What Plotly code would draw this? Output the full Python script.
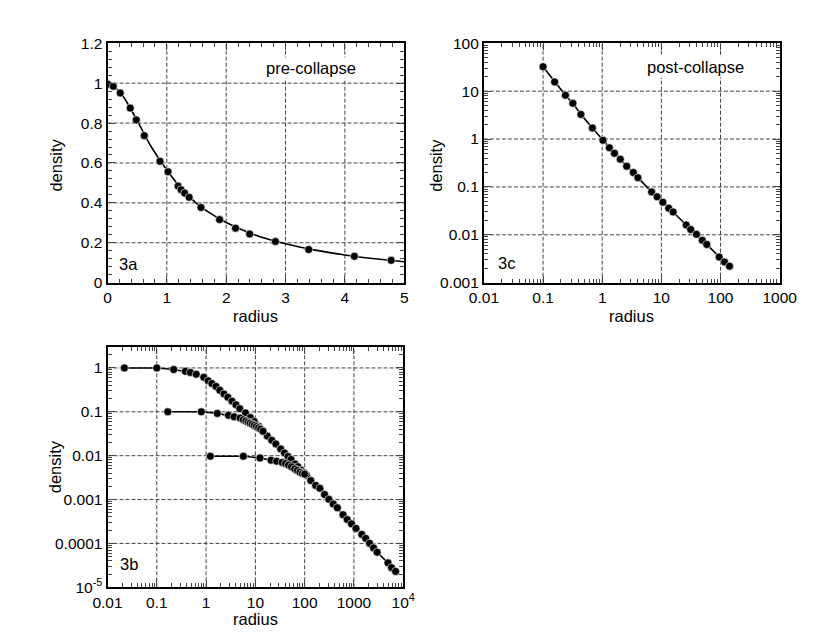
import plotly.graph_objects as go

# ---------------- data ----------------
# 3a pre-collapse (linear)
a_r = [0.005, 0.097, 0.215, 0.383, 0.485, 0.62, 0.885, 1.02, 1.19, 1.24, 1.30, 1.375, 1.575, 1.888, 2.157, 2.395, 2.83, 3.39, 4.16, 4.78]
a_d = [0.995, 0.984, 0.951, 0.875, 0.816, 0.737, 0.608, 0.556, 0.484, 0.466, 0.449, 0.428, 0.377, 0.316, 0.273, 0.244, 0.206, 0.166, 0.132, 0.112]
a_curve_r = [0.0, 0.1, 0.25, 0.5, 0.75, 1.0, 1.25, 1.5, 1.75, 2.0, 2.5, 3.0, 3.5, 4.0, 4.5, 5.0]
a_curve_d = [1.0, 0.985, 0.94, 0.812, 0.675, 0.565, 0.47, 0.398, 0.345, 0.302, 0.238, 0.195, 0.163, 0.139, 0.12, 0.105]

# 3c post-collapse (log-log)
c_r = [0.1, 0.157, 0.239, 0.319, 0.436, 0.682, 1.03, 1.32, 1.61, 2.02, 2.59, 3.36, 4.01, 6.84, 8.46, 10.6, 13.3, 15.8, 26.3, 31.3, 39.2, 49.1, 58.5, 95.0, 117, 142]
c_d = [32.4, 15.6, 8.2, 5.56, 3.27, 1.70, 0.94, 0.656, 0.503, 0.380, 0.270, 0.200, 0.156, 0.0787, 0.0622, 0.0478, 0.0360, 0.0299, 0.0160, 0.0129, 0.0102, 0.00769, 0.00628, 0.00342, 0.00271, 0.00221]

# 3b three runs (log-log)
b1_r = [0.022, 0.10, 0.22, 0.38, 0.48, 0.63, 0.90, 1.10, 1.31, 1.59, 1.90, 2.31, 2.76, 3.36, 4.03, 4.82, 6.3, 7.9, 9.5, 11.6, 14.3, 17.4, 21.5, 26, 32.6, 39, 46, 53, 63.5, 73, 84, 96, 108, 133, 167, 203, 253, 310, 380, 460, 600, 730, 890, 1100, 1440, 1730, 2080, 2500, 2950, 4900, 5800, 7000]
b1_d = [1.0, 1.0, 0.92, 0.84, 0.79, 0.72, 0.61, 0.51, 0.44, 0.38, 0.31, 0.255, 0.215, 0.175, 0.145, 0.118, 0.094, 0.074, 0.060, 0.047, 0.036, 0.028, 0.0225, 0.0185, 0.0142, 0.0115, 0.0096, 0.0082, 0.0065, 0.0056, 0.0047, 0.0041, 0.0036, 0.0027, 0.0021, 0.0018, 0.0013, 0.00101, 0.00079, 0.00065, 0.00045, 0.00035, 0.00028, 0.00022, 0.00016, 0.00013, 0.0001, 7.9e-5, 6.3e-5, 3.6e-5, 2.8e-5, 2.3e-5]
b2_r = [0.167, 0.80, 1.69, 2.85, 3.7, 4.9, 5.7, 6.4, 7.1, 7.8, 8.6, 9.5, 10.5, 11.6, 12.8, 14.3]
b2_d = [0.1, 0.1, 0.092, 0.083, 0.077, 0.072, 0.066, 0.062, 0.058, 0.055, 0.052, 0.049, 0.046, 0.043, 0.040, 0.036]
b3_r = [1.22, 5.7, 12.4, 20.8, 27, 35, 41, 47, 54, 63, 71, 80, 90, 100]
b3_d = [0.0097, 0.0097, 0.0089, 0.0079, 0.0075, 0.0070, 0.0066, 0.0061, 0.0056, 0.0050, 0.0046, 0.0042, 0.0039, 0.0038]

x3a_vals = [0, 1, 2, 3, 4, 5]
x3a_text = ["0", "1", "2", "3", "4", "5"]
y3a_vals = [0, 0.2, 0.4, 0.6, 0.8, 1.0, 1.2]
y3a_text = ["0", "0.2", "0.4", "0.6", "0.8", "1", "1.2"]
x3b_vals = [0.01, 0.1, 1, 10, 100, 1000, 10000]
x3b_text = ["0.01", "0.1", "1", "10", "100", "1000", "10<sup>4</sup>"]
y3b_vals = [1e-5, 1e-4, 1e-3, 0.01, 0.1, 1]
y3b_text = ["10<sup>-5</sup>", "0.0001", "0.001", "0.01", "0.1", "1"]
x3c_vals = [0.01, 0.1, 1, 10, 100, 1000]
x3c_text = ["0.01", "0.1", "1", "10", "100", "1000"]
y3c_vals = [0.001, 0.01, 0.1, 1, 10, 100]
y3c_text = ["0.001", "0.01", "0.1", "1", "10", "100"]

# ---------------- style ----------------
W, H = 830, 633
TICKFONT = dict(family="Liberation Sans, Arial", size=15.5, color="black")
TITLEFONT = dict(family="Liberation Sans, Arial", size=16.5, color="black")
MK = dict(color="black", size=8, line=dict(color="white", width=0.6))
LN = dict(color="black", width=1.6)
GRIDLINE = dict(color="#444444", width=1, dash="4px,2px")

def px_x(p):
    return p / W

def px_y(p):
    return 1 - p / H

def log_minor(lo, hi):
    return [m * 10.0 ** e for e in range(lo, hi) for m in range(2, 10)]

fig = go.Figure()

# 3a
fig.add_trace(go.Scatter(x=a_curve_r, y=a_curve_d, mode="lines", line=dict(shape="spline", **LN),
                         xaxis="x", yaxis="y", showlegend=False))
fig.add_trace(go.Scatter(x=a_r, y=a_d, mode="markers", marker=MK, xaxis="x", yaxis="y", showlegend=False))
# 3c
fig.add_trace(go.Scatter(x=c_r, y=c_d, mode="lines+markers", line=LN, marker=MK,
                         xaxis="x2", yaxis="y2", showlegend=False))
# 3b
for rr, dd in [(b1_r, b1_d), (b2_r, b2_d), (b3_r, b3_d)]:
    fig.add_trace(go.Scatter(x=rr, y=dd, mode="lines+markers", line=LN, marker=MK,
                             xaxis="x3", yaxis="y3", showlegend=False))

def axis(**kw):
    d = dict(showline=True, linecolor="black", linewidth=2, mirror="allticks",
             ticks="inside", ticklen=7, showgrid=False, zeroline=False,
             tickfont=TICKFONT, tickmode="array")
    d.update(kw)
    return d

fig.update_layout(
    width=W, height=H, margin=dict(l=0, r=0, t=0, b=0),
    paper_bgcolor="white", plot_bgcolor="white",
    xaxis=axis(domain=[px_x(88), px_x(397)], range=[0, 5], anchor="y",
               tickvals=x3a_vals, ticktext=x3a_text,
               minor=dict(ticks="inside", ticklen=4, dtick=0.2, tick0=0, showgrid=False)),
    yaxis=axis(domain=[px_y(273), px_y(27)], range=[0, 1.2], anchor="x",
               tickvals=y3a_vals, ticktext=y3a_text,
               minor=dict(ticks="inside", ticklen=4, dtick=0.04, tick0=0, showgrid=False)),
    xaxis2=axis(domain=[px_x(480), px_x(788)], type="log", range=[-2, 3], anchor="y2",
                tickvals=x3c_vals, ticktext=x3c_text,
                minor=dict(ticks="inside", ticklen=4, tickmode="array", tickvals=log_minor(-2, 3), showgrid=False)),
    yaxis2=axis(domain=[px_y(273), px_y(27)], type="log", range=[-3, 2], anchor="x2",
                tickvals=y3c_vals, ticktext=y3c_text,
                minor=dict(ticks="inside", ticklen=4, tickmode="array", tickvals=log_minor(-3, 2), showgrid=False)),
    xaxis3=axis(domain=[px_x(88), px_x(396)], type="log", range=[-2, 4], anchor="y3",
                tickvals=x3b_vals, ticktext=x3b_text,
                minor=dict(ticks="inside", ticklen=4, tickmode="array", tickvals=log_minor(-2, 4), showgrid=False)),
    yaxis3=axis(domain=[px_y(586), px_y(339)], type="log", range=[-5, 0.48], anchor="x3",
                tickvals=y3b_vals, ticktext=y3b_text,
                minor=dict(ticks="inside", ticklen=4, tickmode="array", tickvals=log_minor(-5, 1), showgrid=False)),
)

# dashed grid drawn at the major tick values, beneath the data
grid_specs = [
    ("x", "y", x3a_vals, y3a_vals, (0, 5), (0, 1.2)),
    ("x2", "y2", x3c_vals, y3c_vals, (0.01, 1000), (0.001, 100)),
    ("x3", "y3", x3b_vals, y3b_vals, (0.01, 10000), (1e-5, 3.02)),
]
for xr_, yr_, xv, yv, (xlo, xhi), (ylo, yhi) in grid_specs:
    for v in xv:
        if xlo * 1.0001 < v < xhi * 0.9999 or (xlo == 0 and 0 < v < xhi):
            fig.add_shape(type="line", layer="below", xref=xr_, yref=yr_ + " domain",
                          x0=v, x1=v, y0=0, y1=1, line=GRIDLINE)
    for v in yv:
        if ylo * 1.0001 < v < yhi * 0.9999 or (ylo == 0 and 0 < v < yhi * 0.9999):
            fig.add_shape(type="line", layer="below", xref=xr_ + " domain", yref=yr_,
                          x0=0, x1=1, y0=v, y1=v, line=GRIDLINE)

ann = [
    ("pre-collapse", 300, 52, 0, True), ("3a", 110, 254, 0, False),
    ("post-collapse", 700, 51, 0, True), ("3c", 503, 253, 0, False), ("3b", 110, 562, 0, False),
    ("radius", 242, 307, 0, False), ("radius", 634, 307, 0, False), ("radius", 242, 619, 0, False),
    ("density", 34, 152, -90, False), ("density", 430, 152, -90, False), ("density", 33, 462, -90, False),
]
for txt, x, y, ang, bg in ann:
    fig.add_annotation(text=txt, x=px_x(x), y=px_y(y), xref="paper", yref="paper",
                       showarrow=False, textangle=ang, font=TITLEFONT,
                       bgcolor="white" if bg else None,
                       xanchor="center", yanchor="middle")

fig.write_html("out.html")
